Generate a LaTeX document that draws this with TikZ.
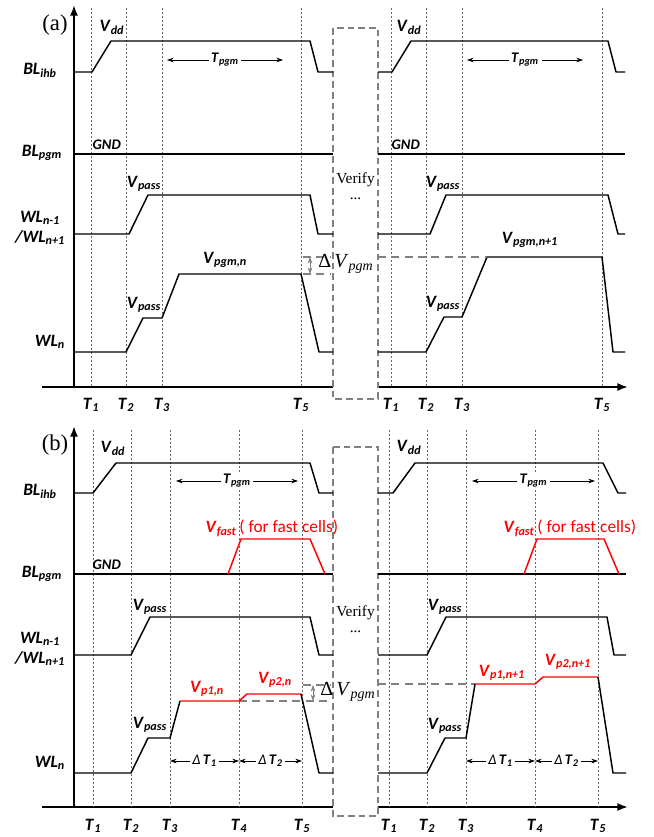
\documentclass[tikz,border=0pt]{standalone}
\usepackage{fontspec}
\setmainfont{Liberation Serif}
\setsansfont{Carlito}
\usetikzlibrary{arrows.meta}

\newcommand{\bv}[2]{\textbf{\textit{#1}\textsubscript{\textit{#2}}}}

\begin{document}
\begin{tikzpicture}[x=0.75pt, y=-0.75pt,
    sig/.style={line width=1.1pt, line join=round},
    hot/.style={sig, red},
    axis/.style={line width=1.3pt},
    tline/.style={gray!80!black, line width=0.6pt, dash pattern=on 1.6pt off 1.4pt},
    vbox/.style={gray, line width=0.8pt, dash pattern=on 5pt off 3pt},
    level/.style={gray, line width=0.8pt, dash pattern=on 6pt off 4pt},
    span/.style={{Stealth[length=5pt,width=3.5pt]}-{Stealth[length=5pt,width=3.5pt]}, line width=0.6pt},
    wire/.style={font=\sffamily\fontsize{13}{14}\selectfont, align=center, inner sep=0pt},
    gnd/.style={font=\sffamily\fontsize{11}{12}\selectfont, inner sep=0pt},
    volt/.style={font=\sffamily\fontsize{13}{14}\selectfont, inner sep=1pt},
    small/.style={font=\sffamily\fontsize{11}{12}\selectfont, fill=white, inner sep=2pt},
    tick/.style={font=\sffamily\fontsize{13}{14}\selectfont},
    serif/.style={font=\rmfamily\fontsize{#1}{#1}\selectfont}
]
\useasboundingbox (0,0) rectangle (653,837);

% ---------------- panel (a)
\node[serif=17] (pa) at (55,25) {(a)};
\draw[axis, -{Latex[length=8pt,width=6pt]}] (74,387) -- (74,5);
\draw[axis] (42,387) -- (333,387);
\draw[axis, -{Latex[length=8pt,width=6pt]}] (378,387) -- (628,387);
\foreach \x/\k in {91/1,126/2,162/3,301/5,391/1,426/2,462/3,602/5}{
    \draw[tline] (\x,8) -- (\x,387);
    \node[tick] (ta\x) at (\x,405) {\bv{T}{\k}};
}
\draw[vbox] (333,28) rectangle (378,399);
\node[serif=11.5] (vera) at (355.5,180) {Verify};
\node[serif=11.5] (dota) at (355.5,199) {...};

\node[wire] (ihba) at (40,70) {\bv{BL}{ihb}};
\node[wire] (pgma) at (42,153) {\bv{BL}{pgm}};
\node[wire] (nba) at (40,228) {\bv{WL}{n-1}\\[1pt]\bv{/WL}{n+1}};
\node[wire] (wla) at (50,342) {\bv{WL}{n}};

% left half
\draw[sig] (74,72) -- (92,72) -- (111,41) -- (310,41) -- (318,72) -- (333,72);
\draw[sig] (74,154) -- (333,154);
\draw[sig] (74,234) -- (129,234) -- (148,195) -- (310,195) -- (318,234) -- (333,234);
\draw[sig] (74,352) -- (126,352) -- (143,318) -- (162,318) -- (179,274) -- (301,274) -- (319,352) -- (333,352);
% right half
\draw[sig] (378,72) -- (392,72) -- (411,41) -- (608,41) -- (616,72) -- (625,72);
\draw[sig] (378,154) -- (625,154);
\draw[sig] (378,234) -- (430,234) -- (446,195) -- (608,195) -- (618,234) -- (625,234);
\draw[sig] (378,352) -- (426,352) -- (444,317) -- (462,317) -- (487,257) -- (602,257) -- (613,352) -- (625,352);

\draw[span] (167,60) -- (283,60) node[small, midway] (tpa1) {\bv{T}{pgm}};
\draw[span] (467,60) -- (583,60) node[small, midway] (tpa2) {\bv{T}{pgm}};
\node[volt] (vdda1) at (112,27) {\bv{V}{dd}};
\node[volt] (vdda2) at (409,27) {\bv{V}{dd}};
\node[gnd] (gnda1) at (107,146) {\bv{GND}{}};
\node[gnd] (gnda2) at (406,146) {\bv{GND}{}};
\node[volt] (vpa1) at (144,184) {\bv{V}{pass}};
\node[volt] (vpa2) at (443,184) {\bv{V}{pass}};
\node[volt] (vpa3) at (144,305) {\bv{V}{pass}};
\node[volt] (vpa4) at (443,304) {\bv{V}{pass}};
\node[volt] (vga1) at (225,260) {\bv{V}{pgm,n}};
\node[volt] (vga2) at (530,240) {\bv{V}{pgm,n+1}};

\draw[level] (303,257) -- (330,257);
\draw[level] (303,274) -- (330,274);
\draw[level] (378,257) -- (487,257);
\draw[span, gray] (310,257) -- (310,274);
\node[serif=15, anchor=west, inner sep=0pt] (dva) at (318,264) {Δ\,\textit{V}\textsubscript{\textit{pgm}}};

% ---------------- panel (b)
\node[serif=17] (pb) at (55,445) {(b)};
\draw[axis, -{Latex[length=8pt,width=6pt]}] (74,807) -- (74,426);
\draw[axis] (42,807) -- (333,807);
\draw[axis, -{Latex[length=8pt,width=6pt]}] (378,807) -- (628,807);
\foreach \x/\k in {93/1,131/2,170/3,239/4,302/5,389/1,427/2,466/3,535/4,598/5}{
    \draw[tline] (\x,430) -- (\x,807);
    \node[tick] (tb\x) at (\x,826) {\bv{T}{\k}};
}
\draw[vbox] (333,447) rectangle (378,816);
\node[serif=11.5] (verb) at (355.5,613) {Verify};
\node[serif=11.5] (dotb) at (355.5,632) {...};

\node[wire] (ihbb) at (40,491) {\bv{BL}{ihb}};
\node[wire] (pgmb) at (42,574) {\bv{BL}{pgm}};
\node[wire] (nbb) at (40,649) {\bv{WL}{n-1}\\[1pt]\bv{/WL}{n+1}};
\node[wire] (wlb) at (50,763) {\bv{WL}{n}};

% left half
\draw[sig] (74,493) -- (93,493) -- (116,463) -- (310,463) -- (319,493) -- (333,493);
\draw[sig] (74,574) -- (333,574);
\draw[hot] (228,574) -- (241,539) -- (310,539) -- (325,574);
\draw[sig] (74,655) -- (131,655) -- (150,617) -- (310,617) -- (319,655) -- (333,655);
\draw[level] (239,701) -- (330,701);
\draw[level] (303,685) -- (330,685);
\draw[sig] (74,773) -- (131,773) -- (148,738) -- (170,738) -- (180,701);
\draw[hot] (180,701) -- (239,701) -- (247,694) -- (301,694);
\draw[sig] (301,694) -- (319,773) -- (333,773);
% right half
\draw[sig] (378,493) -- (393,493) -- (415,463) -- (603,463) -- (618,493) -- (626,493);
\draw[sig] (378,574) -- (626,574);
\draw[hot] (524,574) -- (537,539) -- (604,539) -- (619,574);
\draw[sig] (378,655) -- (427,655) -- (446,617) -- (607,617) -- (614,655) -- (626,655);
\draw[level] (378,684) -- (475,684);
\draw[sig] (378,773) -- (427,773) -- (445,738) -- (466,738) -- (475,684);
\draw[hot] (475,684) -- (535,684) -- (543,677) -- (598,677);
\draw[sig] (598,677) -- (613,773) -- (626,773);

\draw[span] (176,481) -- (298,481) node[small, midway] (tpb1) {\bv{T}{pgm}};
\draw[span] (472,481) -- (595,481) node[small, midway] (tpb2) {\bv{T}{pgm}};
\node[volt] (vddb1) at (113,448) {\bv{V}{dd}};
\node[volt] (vddb2) at (409,447) {\bv{V}{dd}};
\node[gnd] (gndb1) at (107,566) {\bv{GND}{}};
\node[volt] (vpb1) at (150,607) {\bv{V}{pass}};
\node[volt] (vpb2) at (445,607) {\bv{V}{pass}};
\node[volt] (vpb3) at (150,725) {\bv{V}{pass}};
\node[volt] (vpb4) at (445,726) {\bv{V}{pass}};
\node[volt, red, anchor=west] (vfb1) at (204,528) {\bv{V}{fast}\,\textmd{\textup{( for fast cells)}}};
\node[volt, red, anchor=west] (vfb2) at (502,528) {\bv{V}{fast}\,\textmd{\textup{( for fast cells)}}};
\node[volt, red] (p1b1) at (207,689) {\bv{V}{p1,n}};
\node[volt, red] (p2b1) at (275,680) {\bv{V}{p2,n}};
\node[volt, red] (p1b2) at (502,673) {\bv{V}{p1,n+1}};
\node[volt, red] (p2b2) at (568,662) {\bv{V}{p2,n+1}};

\draw[span, gray] (313,685) -- (313,701);
\node[serif=15, anchor=west, inner sep=0pt] (dvb) at (320,692) {Δ\,\textit{V}\textsubscript{\textit{pgm}}};

\draw[span] (170,761) -- (239,761) node[small, midway] (dt1a) {\textit{Δ}\,\bv{T}{1}};
\draw[span] (239,761) -- (302,761) node[small, midway] (dt2a) {\textit{Δ}\,\bv{T}{2}};
\draw[span] (466,761) -- (535,761) node[small, midway] (dt1b) {\textit{Δ}\,\bv{T}{1}};
\draw[span] (535,761) -- (598,761) node[small, midway] (dt2b) {\textit{Δ}\,\bv{T}{2}};
\end{tikzpicture}
\end{document}
